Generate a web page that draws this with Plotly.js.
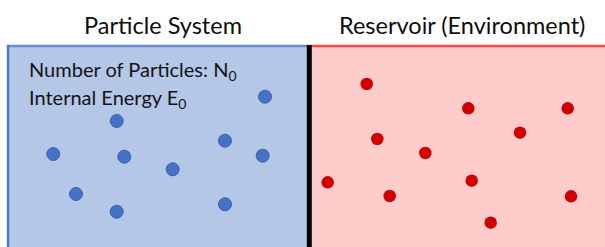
<!DOCTYPE html>
<html>
<head>
<meta charset="utf-8">
<script src="https://cdn.plot.ly/plotly-3.0.1.min.js"></script>
<style>html,body{margin:0;padding:0;background:#fff;}#chart{width:605px;height:247px;}</style>
</head>
<body>
<div id="chart"></div>
<script>
// Panel titles
const panelTitles = ["Particle System", "Reservoir (Environment)"];
const infoLines = ["Number of Particles: N<sub>0</sub>", "Internal Energy E<sub>0</sub>"];

// Particle positions (system, blue)
const systemX = [265, 116.7, 225, 53.3, 124.3, 262.7, 172.7, 76, 116.7, 225];
const systemY = [96.7, 121, 140.7, 154, 156.7, 155.7, 169.3, 194, 211.7, 204.3];

// Particle positions (reservoir, red)
const reservoirX = [366.7, 468.3, 567.7, 520, 377.3, 425.3, 327.7, 471.7, 389.7, 571, 490.7];
const reservoirY = [84, 108.3, 108.3, 132.7, 139, 153, 182.3, 180.7, 196, 196.3, 222.7];

const FONT = "Lato, 'Open Sans', sans-serif";

const traces = [
  {
    type: "scatter", mode: "markers", x: systemX, y: systemY,
    marker: {size: 13, color: "#4472C4", line: {color: "#3A62AC", width: 1}},
    hoverinfo: "skip", showlegend: false
  },
  {
    type: "scatter", mode: "markers", x: reservoirX, y: reservoirY,
    marker: {size: 12.5, color: "#D00000", line: {width: 0}},
    hoverinfo: "skip", showlegend: false
  }
];

const shapes = [
  {type: "rect", xref: "x", yref: "y", x0: 8, x1: 309, y0: 46, y1: 250, fillcolor: "#B4C7E7", line: {width: 0}, layer: "below"},
  {type: "rect", xref: "x", yref: "y", x0: 309, x1: 610, y0: 46, y1: 250, fillcolor: "#FFCCCC", line: {width: 0}, layer: "below"},
  {type: "line", xref: "x", yref: "y", x0: 7, x1: 309, y0: 46, y1: 46, line: {color: "#6C8CCB", width: 2.5}, layer: "below"},
  {type: "line", xref: "x", yref: "y", x0: 309, x1: 610, y0: 46, y1: 46, line: {color: "#FF4848", width: 2.5}, layer: "below"},
  {type: "line", xref: "x", yref: "y", x0: 8, x1: 8, y0: 45, y1: 250, line: {color: "#5578BC", width: 2.5}, layer: "below"},
  {type: "line", xref: "x", yref: "y", x0: 309.3, x1: 309.3, y0: 45, y1: 250, line: {color: "#000000", width: 5}, layer: "below"}
];

const annotations = [
  {text: panelTitles[0], x: 163, y: 25, xref: "x", yref: "y", showarrow: false, xanchor: "center", yanchor: "middle",
   font: {family: FONT, size: 23.5, color: "#0d0d0d"}},
  {text: panelTitles[1], x: 461.5, y: 25, xref: "x", yref: "y", showarrow: false, xanchor: "center", yanchor: "middle",
   font: {family: FONT, size: 23.5, color: "#0d0d0d"}},
  {text: infoLines[0], x: 27, y: 70.5, xref: "x", yref: "y", showarrow: false, xanchor: "left", yanchor: "middle",
   font: {family: FONT, size: 20, color: "#141414"}},
  {text: infoLines[1], x: 27, y: 98.5, xref: "x", yref: "y", showarrow: false, xanchor: "left", yanchor: "middle",
   font: {family: FONT, size: 20, color: "#141414"}}
];

const layout = {
  width: 605, height: 247,
  margin: {l: 0, r: 0, t: 0, b: 0, pad: 0},
  paper_bgcolor: "#ffffff", plot_bgcolor: "rgba(0,0,0,0)",
  xaxis: {range: [0, 605], visible: false, fixedrange: true},
  yaxis: {range: [247, 0], visible: false, fixedrange: true},
  shapes: shapes, annotations: annotations, showlegend: false
};

Plotly.newPlot("chart", traces, layout, {staticPlot: true, displayModeBar: false});
</script>
</body>
</html>
